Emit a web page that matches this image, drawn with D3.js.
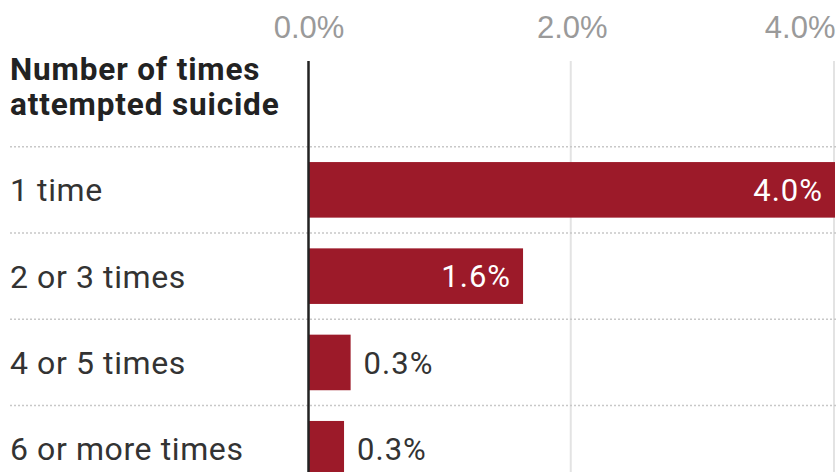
<!DOCTYPE html>
<meta charset="utf-8">
<style>
  body { margin: 0; background: #fff; }
  svg { font-family: Roboto, sans-serif; display: block; }
  .grid line { stroke: #e3e3e3; stroke-width: 2; }
  .sep line { stroke: #c8c8c8; stroke-width: 1.5; stroke-dasharray: 2,2; }
  .axis text { fill: #9a9a9a; font-size: 31px; font-weight: 300; }
  .axis path { display: none; }
  .cat { fill: #333; font-size: 32px; letter-spacing: 0.6px; }
  .title { fill: #222; font-size: 31.5px; font-weight: 700; letter-spacing: 0.85px; }
  .val { font-size: 31px; letter-spacing: 1px; }
</style>
<body>
<script src="https://d3js.org/d3.v7.min.js"></script>
<script>

var categories = ["1 time", "2 or 3 times", "4 or 5 times", "6 or more times"];
var values = [4.0, 1.63, 0.32, 0.27];
var valueLabels = ["4.0%", "1.6%", "0.3%", "0.3%"];
var tickValues = [0, 2, 4];
var titleLines = ["Number of times", "attempted suicide"];

var W = 837, H = 472;
var barColor = "#9c1a29";

var svg = d3.select("body").append("svg")
    .attr("width", W)
    .attr("height", H);

var x = d3.scaleLinear().domain([0, 4]).range([308.5, 835]);

var y = d3.scaleBand()
    .domain(categories)
    .range([146.7, 146.7 + 4 * 86.3])
    .paddingInner(0.356)
    .paddingOuter(0.178);

var rowTop = function(d) { return y(d) - y.step() * y.paddingOuter(); };

// vertical gridlines
svg.append("g").attr("class", "grid")
  .selectAll("line")
  .data(tickValues.filter(function(d) { return d != 0; }))
  .enter().append("line")
    .attr("x1", function(d) { return x(d) - 1; })
    .attr("x2", function(d) { return x(d) - 1; })
    .attr("y1", 61)
    .attr("y2", H);

// dotted row separators
svg.append("g").attr("class", "sep")
  .selectAll("line")
  .data(categories)
  .enter().append("line")
    .attr("x1", 10)
    .attr("x2", W)
    .attr("y1", function(d) { return rowTop(d); })
    .attr("y2", function(d) { return rowTop(d); });

// top axis
var axis = svg.append("g")
    .attr("class", "axis")
    .attr("transform", "translate(0,38)")
    .call(d3.axisTop(x).tickValues(tickValues).tickSize(0).tickPadding(0)
      .tickFormat(function(d) { return d.toFixed(1) + "%"; }));
axis.selectAll(".tick text")
    .attr("y", 0).attr("dy", 0)
    .attr("text-anchor", function(d, i) { return i == tickValues.length - 1 ? "end" : "middle"; });

// title, two lines
svg.append("g")
  .selectAll("text")
  .data(titleLines)
  .enter().append("text")
    .attr("class", "title")
    .attr("x", 10)
    .attr("y", function(d, i) { return 80 + i * 35; })
    .text(function(d) { return d; });

// bars
svg.append("g")
  .selectAll("rect")
  .data(categories)
  .enter().append("rect")
    .attr("x", x(0))
    .attr("y", function(d) { return y(d); })
    .attr("width", function(d, i) { return x(values[i]) - x(0); })
    .attr("height", y.bandwidth())
    .attr("fill", barColor);

// zero line
svg.append("line")
    .attr("x1", x(0)).attr("x2", x(0))
    .attr("y1", 61).attr("y2", H)
    .attr("stroke", "#222")
    .attr("stroke-width", 2.5);

// category labels
svg.append("g")
  .selectAll("text")
  .data(categories)
  .enter().append("text")
    .attr("class", "cat")
    .attr("x", 10)
    .attr("y", function(d) { return y(d) + y.bandwidth() / 2; })
    .attr("dy", "0.36em")
    .text(function(d) { return d; });

// value labels
svg.append("g")
  .selectAll("text")
  .data(categories)
  .enter().append("text")
    .attr("class", "val")
    .attr("y", function(d) { return y(d) + y.bandwidth() / 2; })
    .attr("dy", "0.36em")
    .each(function(d, i) {
      var inside = values[i] > 1;
      d3.select(this)
        .attr("x", inside ? x(values[i]) - 12 : x(values[i]) + 13)
        .attr("text-anchor", inside ? "end" : "start")
        .attr("fill", inside ? "#fff" : "#333")
        .text(valueLabels[i]);
    });

</script>
